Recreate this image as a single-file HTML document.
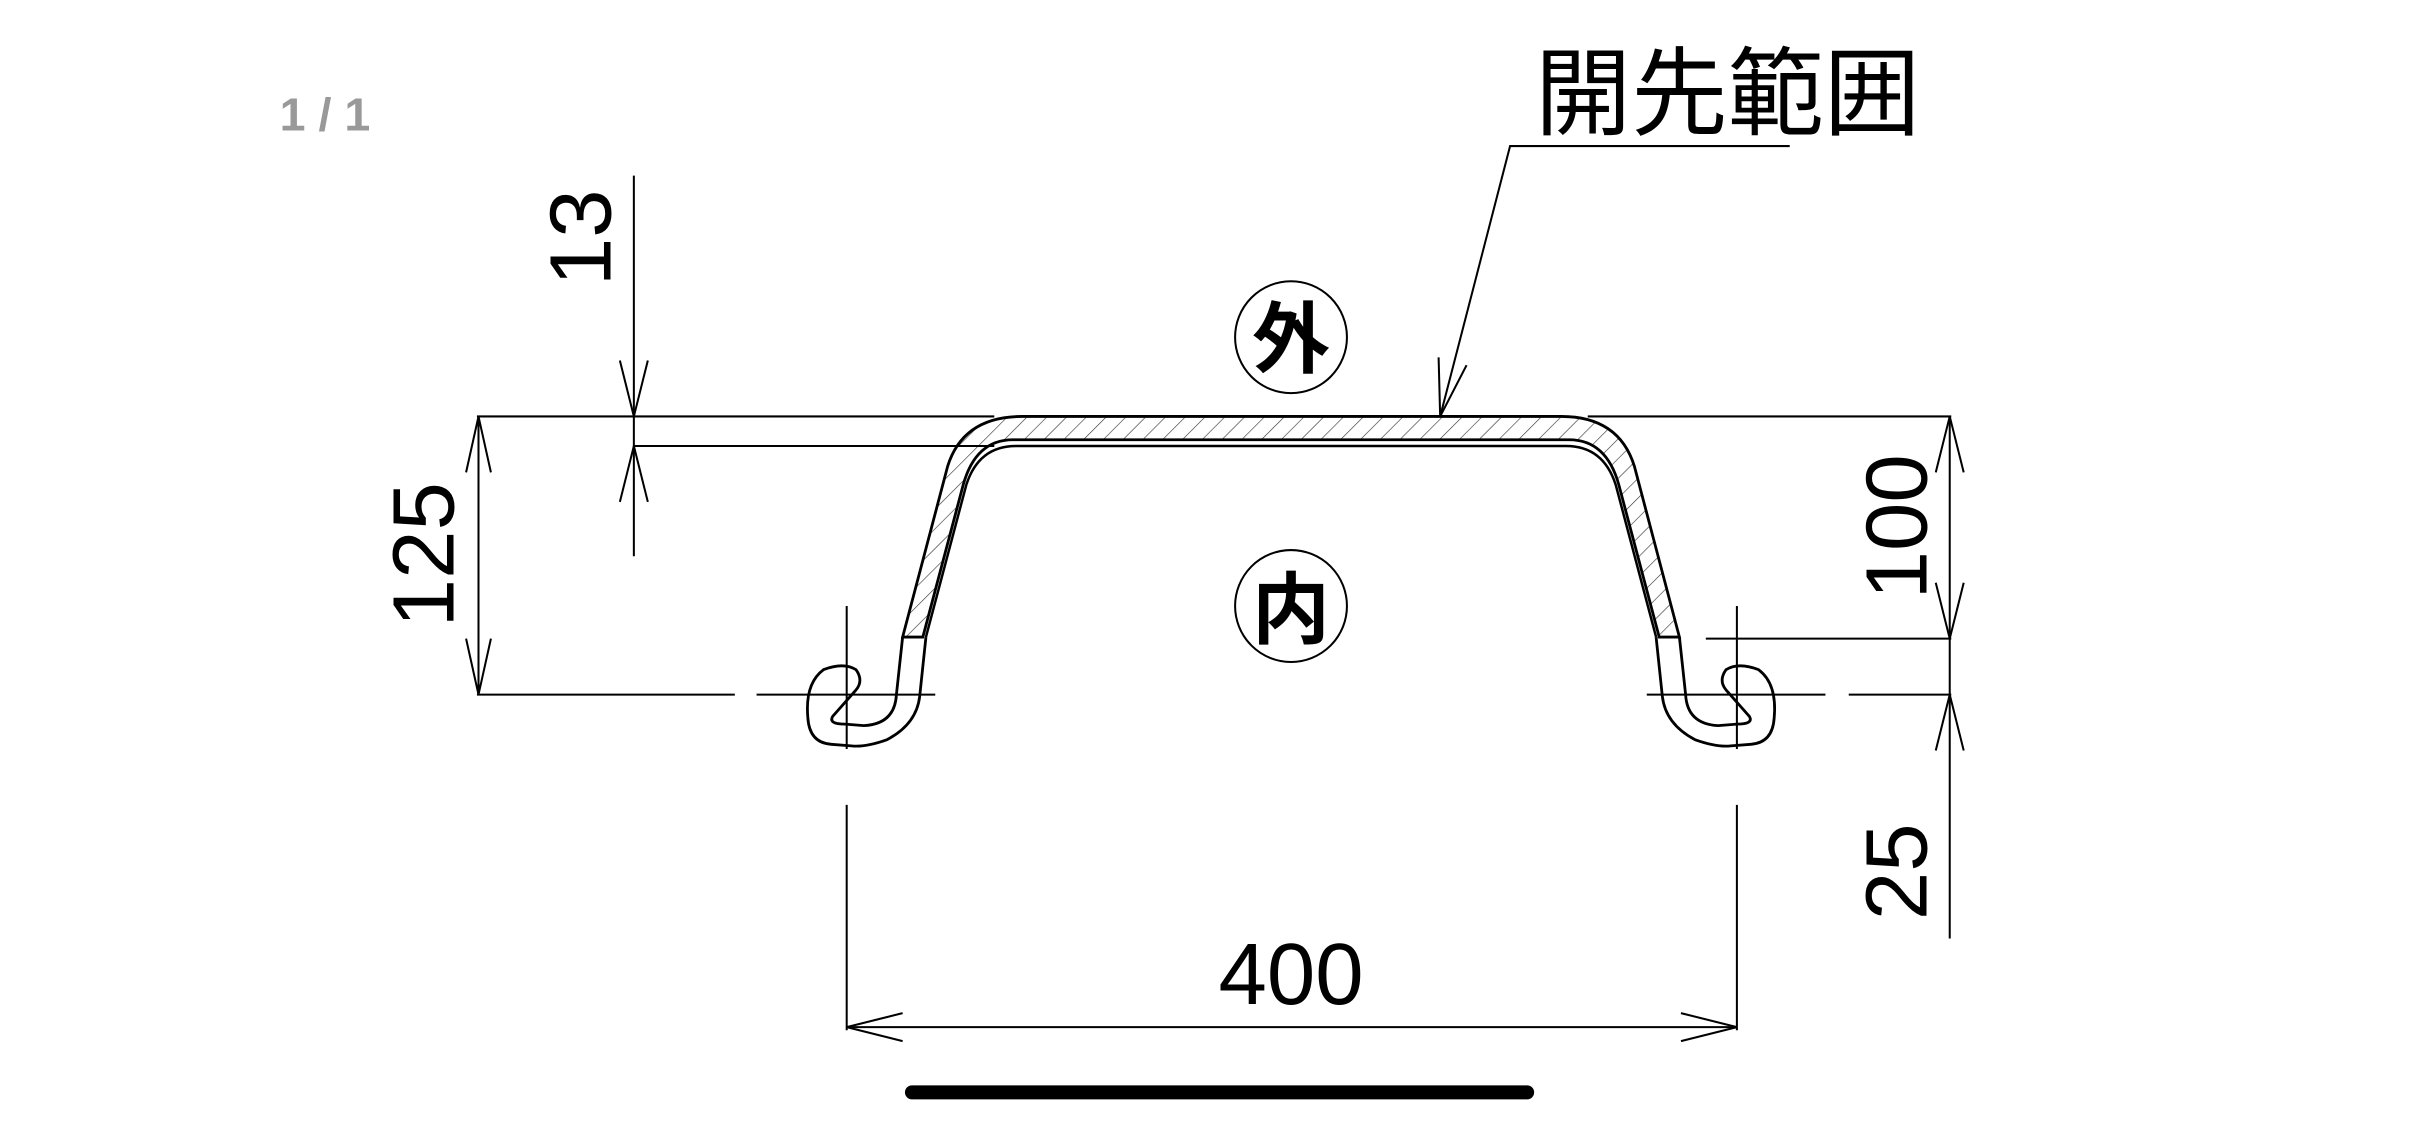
<!DOCTYPE html>
<html><head><meta charset="utf-8"><style>html,body{margin:0;padding:0;background:#fff;width:2436px;height:1125px;overflow:hidden}</style></head>
<body>
<svg width="2436" height="1125" viewBox="0 0 1568 724" preserveAspectRatio="none" xmlns="http://www.w3.org/2000/svg">
<defs>
<pattern id="h" width="9" height="9" patternUnits="userSpaceOnUse" patternTransform="rotate(45)">
<line x1="0" y1="0" x2="0" y2="9" stroke="#333" stroke-width="0.8"/>
</pattern>
</defs>
<rect width="1568" height="724" fill="#fff"/>
<text x="180" y="84" font-family="Liberation Sans, sans-serif" font-size="30" fill="#999" font-weight="bold">1 / 1</text>
<text x="988" y="82" font-family="Liberation Sans, 'Noto Sans CJK JP', sans-serif" font-size="62" fill="#000">開先範囲</text>
<g stroke="#000" stroke-width="1.3" fill="none">
<polyline points="1152,94 972,94 927,268"/>
<line x1="927" y1="268" x2="926" y2="230"/><line x1="927" y1="268" x2="944" y2="235"/>
<circle cx="831" cy="217" r="36"/><circle cx="831" cy="390" r="36"/>
<path d="M581,410 L610,300 Q620,268 658,268 L1005,268 Q1042,268 1052,300 L1081,410 L1068,410 L1042,312 Q1034,283 1010,283 L652,283 Q628,283 620,312 L594,410 Z" fill="url(#h)" stroke-width="1.8"/>
<path d="M596,410 L622,312 Q630,287 654,287 L1008,287 Q1032,287 1040,312 L1066,410" stroke-width="1.6"/>
<path d="M581,410 L577,447 Q576,466 556,467 L544,466 Q533,466 536,461 L551,444 Q556,438 551,431 Q543,426 530,431 Q518,440 520,462 Q521,478 535,479 L548,480 Q557,481 571,476 Q590,466 592,448 L596,410" stroke-width="1.8"/>
<path d="M1081,410 L1085,447 Q1086,466 1106,467 L1118,466 Q1129,466 1126,461 L1111,444 Q1106,438 1111,431 Q1119,426 1132,431 Q1144,440 1142,462 Q1141,478 1127,479 L1114,480 Q1105,481 1091,476 Q1072,466 1070,448 L1066,410" stroke-width="1.8"/>
<line x1="545" y1="390" x2="545" y2="482"/><line x1="545" y1="518" x2="545" y2="663"/>
<line x1="1118" y1="390" x2="1118" y2="482"/><line x1="1118" y1="518" x2="1118" y2="663"/>
<line x1="307" y1="447" x2="473" y2="447"/><line x1="487" y1="447" x2="602" y2="447"/>
<line x1="1060" y1="447" x2="1175" y2="447"/><line x1="1190" y1="447" x2="1256" y2="447"/>
<line x1="1098" y1="411" x2="1256" y2="411"/>
<line x1="307" y1="268" x2="640" y2="268"/><line x1="1022" y1="268" x2="1256" y2="268"/>
<line x1="408" y1="287" x2="640" y2="287"/>
<line x1="308" y1="268" x2="308" y2="447"/>
<polyline points="300,304 308,268 316,304"/><polyline points="300,411 308,447 316,411"/>
<line x1="408" y1="113" x2="408" y2="358"/>
<polyline points="399,232 408,268 417,232"/><polyline points="399,323 408,287 417,323"/>
<line x1="1255" y1="268" x2="1255" y2="604"/>
<polyline points="1246,304 1255,268 1264,304"/><polyline points="1246,375 1255,411 1264,375"/>
<polyline points="1246,483 1255,447 1264,483"/>
<line x1="545" y1="661" x2="1118" y2="661"/>
<polyline points="581,652 545,661 581,670"/><polyline points="1082,652 1118,661 1082,670"/>
</g>
<g font-family="Liberation Sans, 'Noto Sans CJK JP', sans-serif" fill="#000" text-anchor="middle">
<text x="831" y="236" font-size="50" font-weight="bold">外</text>
<text x="831" y="410" font-size="50" font-weight="bold">内</text>
<text x="831" y="646" font-size="56">400</text>
<text transform="translate(292,357) rotate(-90)" font-size="56">125</text>
<text transform="translate(393,153) rotate(-90)" font-size="56">13</text>
<text transform="translate(1240,339) rotate(-90)" font-size="56">100</text>
<text transform="translate(1240,561) rotate(-90)" font-size="56">25</text>
</g>
<line x1="587" y1="703" x2="983" y2="703" stroke="#000" stroke-width="9" stroke-linecap="round"/>
</svg>
</body></html>
